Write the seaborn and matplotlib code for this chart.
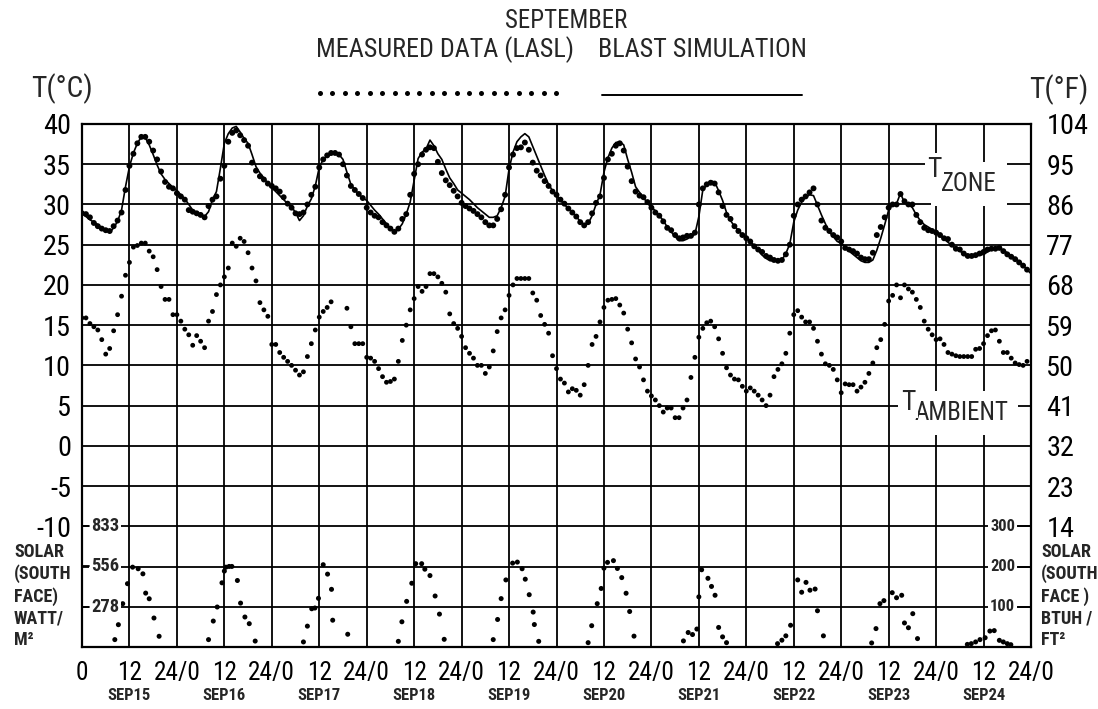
import numpy as np
import pandas as pd
import matplotlib
matplotlib.use("Agg")
import matplotlib.pyplot as plt
import matplotlib.transforms as mtransforms
from matplotlib.lines import Line2D
import seaborn as sns

# ---------------------------------------------------------------- data
# hour 0 = midnight starting Sep 15; ten days of hourly values
zone_sim = [
    29.0, 28.5, 28.1, 27.8, 27.5, 27.1, 26.8, 26.5, 27.1, 27.9, 29.3, 32.2, 34.7, 36.4, 37.6, 38.4, 38.3, 37.4, 36.2, 34.9, 33.8, 33.1, 32.6, 32.1,
    31.7, 31.2, 30.7, 30.0, 29.3, 29.0, 28.8, 28.5, 29.1, 30.6, 31.6, 34.5, 37.6, 38.8, 39.5, 39.7, 39.0, 38.2, 37.6, 36.2, 34.7, 33.9, 33.3, 32.6,
    32.1, 31.6, 31.1, 30.6, 30.1, 29.7, 29.0, 28.0, 28.6, 29.8, 30.7, 32.3, 34.6, 35.6, 36.0, 36.2, 36.3, 36.2, 35.6, 34.0, 32.5, 31.8, 31.3, 30.8,
    30.5, 29.9, 29.3, 28.8, 28.2, 27.6, 27.0, 26.6, 26.9, 27.6, 28.8, 30.3, 33.0, 35.7, 36.5, 36.9, 38.0, 37.3, 36.3, 35.6, 34.4, 33.3, 32.6, 31.8,
    31.4, 31.0, 30.6, 30.1, 29.6, 29.2, 28.8, 28.4, 28.4, 28.6, 29.6, 31.0, 34.4, 36.5, 37.8, 38.4, 38.8, 38.4, 37.2, 36.0, 34.8, 33.6, 32.5, 31.7,
    31.2, 30.5, 30.0, 29.5, 29.0, 28.5, 27.9, 27.4, 27.6, 28.6, 30.0, 31.2, 34.0, 35.8, 37.0, 37.7, 37.8, 37.4, 35.6, 34.0, 32.2, 31.5, 30.9, 30.1,
    29.7, 29.2, 28.6, 28.0, 27.2, 26.6, 26.0, 25.5, 25.5, 25.7, 26.0, 26.3, 28.5, 31.8, 32.4, 32.9, 32.8, 31.7, 30.5, 29.0, 28.0, 27.3, 26.8, 26.2,
    25.9, 25.4, 24.9, 24.3, 23.7, 23.3, 23.0, 23.0, 23.0, 23.1, 23.9, 25.1, 27.8, 29.3, 30.3, 30.9, 31.2, 31.1, 29.9, 28.7, 27.6, 26.6, 26.0, 25.4,
    25.2, 24.7, 24.2, 23.8, 23.4, 23.0, 22.8, 22.8, 23.1, 24.3, 25.8, 27.5, 29.3, 30.0, 30.1, 31.4, 30.2, 30.0, 29.6, 28.7, 28.0, 27.5, 27.2, 26.9,
    26.6, 26.2, 25.7, 25.3, 24.9, 24.5, 24.2, 23.9, 23.7, 23.6, 23.6, 23.7, 23.8, 24.1, 24.4, 24.6, 24.6, 24.3, 24.0, 23.6, 23.3, 22.9, 22.4, 21.9,
    21.4,
]

zone_measured = [
    28.9, 28.8, 28.4, 27.7, 27.3, 27.0, 26.8, 26.7, 27.3, 28.0, 29.0, 31.8, 34.8, 36.3, 37.6, 38.4, 38.4, 37.8, 36.7, 35.6, 34.1, 32.8, 32.2, 32.0,
    31.4, 31.0, 30.6, 29.3, 29.1, 28.9, 28.7, 28.4, 29.8, 30.6, 31.0, 33.2, 34.8, 37.8, 38.9, 39.2, 38.6, 38.0, 37.3, 35.2, 34.2, 33.5, 33.1, 32.6,
    32.3, 32.0, 31.6, 30.9, 30.1, 29.6, 28.9, 28.8, 29.0, 30.0, 31.2, 32.2, 34.6, 35.6, 36.1, 36.4, 36.4, 36.2, 35.0, 33.6, 32.3, 31.8, 31.3, 30.8,
    29.6, 29.0, 28.6, 28.4, 27.8, 27.4, 27.0, 26.6, 27.0, 28.2, 28.8, 31.2, 33.8, 35.0, 36.2, 36.8, 37.1, 37.0, 35.3, 33.9, 33.0, 32.4, 31.7, 31.0,
    30.2, 29.8, 29.5, 29.2, 28.8, 28.4, 27.8, 27.4, 27.4, 28.2, 29.4, 31.2, 34.6, 36.2, 37.0, 37.1, 37.7, 36.8, 35.2, 34.2, 33.6, 32.9, 32.3, 31.6,
    31.2, 30.6, 30.1, 29.5, 29.0, 28.5, 27.8, 27.4, 27.8, 28.9, 30.2, 31.0, 33.3, 35.6, 36.3, 37.3, 37.6, 36.7, 34.7, 32.9, 31.6, 31.1, 30.9, 30.3,
    29.6, 29.0, 28.6, 27.9, 27.1, 26.8, 26.2, 25.8, 25.9, 26.1, 26.1, 26.5, 30.0, 32.0, 32.5, 32.7, 32.6, 31.5, 29.8, 28.7, 28.2, 27.3, 26.7, 26.2,
    25.8, 25.4, 24.8, 24.4, 24.1, 23.6, 23.4, 23.1, 23.0, 23.1, 23.8, 25.0, 28.6, 30.0, 30.6, 31.0, 31.5, 32.0, 30.0, 28.0, 27.1, 26.7, 26.2, 25.9,
    25.4, 24.6, 24.4, 24.2, 23.9, 23.4, 23.2, 23.2, 24.0, 26.2, 27.2, 28.4, 29.6, 30.0, 30.0, 31.3, 30.4, 30.0, 30.0, 28.7, 27.8, 27.1, 26.8, 26.7,
    26.5, 26.2, 25.8, 25.7, 25.0, 24.5, 24.4, 23.9, 23.6, 23.6, 23.7, 23.9, 24.1, 24.4, 24.5, 24.5, 24.6, 24.2, 23.8, 23.5, 23.2, 22.8, 22.4, 21.9,
]

nan = np.nan
ambient_measured = [
    15.9, 15.9, 15.2, 14.8, 14.4, 13.2, 11.4, 12.1, 14.3, 16.3, 18.6, 21.2, 22.8, 24.7, 24.9, 25.2, 25.2, 24.2, 23.5, 21.9, 19.8, 18.2, 18.2, 16.3,
    16.3, 15.5, 14.5, 13.8, 12.5, 13.7, 13.0, 12.2, 15.5, 16.7, 18.8, 20.0, 21.0, 22.1, 25.2, 24.8, 25.8, 25.4, 24.0, 22.1, 20.5, 17.8, 16.9, 16.1,
    12.6, 12.6, 11.6, 11.0, 10.5, 10.0, 9.4, 8.8, 9.2, 11.1, 12.7, 14.4, 16.0, 16.7, 17.2, 17.9, nan, nan, nan, 17.1, 14.8, 12.7, 12.7, 12.7,
    11.0, 10.9, 10.5, 9.6, 8.6, 7.9, 8.0, 8.3, 10.5, 13.1, 15.0, 16.9, 18.3, 19.8, 19.2, 19.8, 21.4, 21.4, 21.0, 20.2, 19.1, 16.4, 15.2, 14.6,
    13.6, 12.2, 11.5, 10.9, 10.0, 10.0, 9.0, 9.8, 11.8, 14.2, 15.9, 16.9, 18.7, 20.0, 20.8, 20.8, 20.8, 20.8, 19.0, 18.1, 16.2, 15.1, 14.0, 11.2,
    9.6, 8.3, 7.8, 6.7, 7.1, 6.9, 6.3, 7.6, 10.0, 12.6, 13.6, 15.4, 17.2, 18.1, 18.2, 18.3, 17.5, 16.5, 14.5, 12.8, 10.8, 9.8, 8.2, 6.8,
    6.2, 5.7, 5.0, 4.2, 4.7, 4.7, 3.5, 3.5, 4.7, 5.7, 8.5, 11.0, 13.5, 14.6, 15.3, 15.5, 14.8, 13.3, 11.5, 9.7, 8.8, 8.3, 8.2, 7.4,
    6.8, 7.2, 6.8, 6.3, 5.7, 5.0, 6.3, 8.6, 9.5, 10.2, 11.5, 14.0, 16.3, 16.8, 16.0, 15.4, 15.4, 14.6, 13.0, 11.4, 10.2, 10.0, 9.5, 8.2,
    6.6, 7.7, 7.6, 7.6, 6.8, 7.3, 7.9, 9.0, 10.3, 12.2, 13.2, 15.1, 18.0, 18.7, 20.0, 18.4, 20.0, 19.5, 19.1, 18.2, 17.2, 15.5, 14.5, 13.8,
    13.2, 13.3, 12.6, 11.6, 11.4, 11.2, 11.1, 11.1, 11.1, 11.1, 12.0, 12.1, 12.7, 13.7, 14.3, 14.4, 13.0, 11.6, 11.6, 10.9, 10.3, 10.1, 10.0, 10.5,
]

# solar irradiance on the south face, W/m^2, at the logged hours
solar_hours = [
    8.3, 9.2, 10.3, 11.5, 12.8, 14.2, 15.4, 16.1, 17.0, 18.2, 19.5,
    32.0, 33.2, 34.2, 35.4, 36.0, 36.4, 37.2, 37.9, 39.3, 40.1, 41.2, 42.3, 43.8,
    56.0, 57.0, 58.1, 58.9, 59.8, 61.0, 62.1, 63.1, 63.4, 67.2,
    80.0, 80.9, 82.1, 83.4, 84.4, 85.9, 86.7, 88.0, 89.3, 90.4, 91.6,
    104.0, 105.1, 106.0, 107.2, 108.9, 110.1, 111.3, 112.1, 113.1, 114.1, 114.4, 115.5,
    128.0, 128.9, 130.3, 131.3, 132.0, 132.9, 134.4, 135.4, 136.5, 137.6, 138.5, 139.6,
    152.1, 153.3, 154.4, 155.5, 156.0, 156.7, 158.3, 159.2, 160.1, 161.0, 162.0, 163.0,
    175.9, 177.0, 178.0, 179.2, 181.0, 182.0, 183.1, 184.1, 185.4, 186.0, 187.5,
    199.7, 200.8, 201.8, 202.8, 204.9, 206.0, 207.3, 208.0, 209.0, 210.1, 211.3,
    223.9, 224.9, 226.0, 227.1, 228.4, 229.6, 230.7, 232.0, 233.0, 234.0, 234.9,
]
solar_wm2 = [
    51, 154, 299, 437, 551, 540, 505, 372, 333, 200, 74,
    51, 179, 276, 443, 524, 551, 556, 556, 459, 303, 207, 161, 41,
    35, 144, 264, 269, 336, 568, 503, 398, 185, 88,
    39, 174, 315, 440, 575, 575, 537, 493, 352, 227, 53,
    51, 190, 334, 463, 579, 586, 540, 468, 361, 241, 155, 39,
    30, 147, 299, 404, 544, 584, 596, 542, 479, 371, 245, 75,
    42, 100, 86, 124, 346, 533, 474, 418, 357, 135, 70, 30,
    23, 47, 77, 150, 463, 378, 446, 392, 400, 250, 77,
    28, 127, 299, 320, 375, 340, 357, 166, 133, 230, 58,
    18, 23, 35, 51, 64, 110, 113, 46, 35, 23, 16,
]

day_labels = ["SEP15", "SEP16", "SEP17", "SEP18", "SEP19",
              "SEP20", "SEP21", "SEP22", "SEP23", "SEP24"]
celsius_ticks = [40, 35, 30, 25, 20, 15, 10, 5, 0, -5, -10]
fahrenheit_labels = ["104", "95", "86", "77", "68", "59", "50", "41", "32", "23", "14"]
solar_si_ticks = [833, 556, 278]
solar_us_ticks = [300, 200, 100]

# The solar scale shares the bottom of the temperature frame:
# 0 sits at -25 degC and each 5 degC band is 278 W/m^2 (100 BTUH/ft^2).
Y_MIN, Y_MAX = -25, 40


def wm2_to_axis(w):
    return Y_MIN + np.asarray(w, dtype=float) * 15.0 / 833.0


def btu_to_axis(b):
    return Y_MIN + np.asarray(b, dtype=float) * 5.0 / 100.0


# ---------------------------------------------------------------- style
sns.set_theme(style="white")
plt.rcParams["font.family"] = ["Liberation Sans Narrow", "Roboto Condensed",
                               "Liberation Sans", "DejaVu Sans"]
plt.rcParams["axes.unicode_minus"] = False

W, H = 1098, 709
fig = plt.figure(figsize=(W / 100, H / 100), dpi=100)
renderer = fig.canvas.get_renderer()


def fit(s, width_px, weight="normal"):
    """Font size (pt) that makes string s about width_px pixels wide."""
    probe = fig.text(0, 0, s, fontsize=20, fontweight=weight)
    w = probe.get_window_extent(renderer=renderer).width
    probe.remove()
    return 20.0 * width_px / w


xtick_fs = fit("24/0", 47)
ytick_fs = fit("40", 28)
sep_fs = fit("SEPTEMBER", 122)
key_fs = fit("MEASURED DATA (LASL)", 258)
unit_fs = fit("T(°C)", 62)
day_fs = fit("SEP15", 43, "bold")
sol_left_fs = fit("833", 28, "bold")
sol_right_fs = fit("300", 25, "bold")
cap_fs = fit("SOLAR", 50, "bold")
curve_fs = fit("AMBIENT", 94)

ax = fig.add_axes([82 / W, 1 - 647 / H, 949 / W, 523 / H])

hours_meas = np.arange(len(zone_measured))
sim_df = pd.DataFrame({"hour": np.arange(len(zone_sim)), "temp": zone_sim})
meas_df = pd.DataFrame({"hour": hours_meas, "zone": zone_measured,
                        "ambient": ambient_measured})
solar_df = pd.DataFrame({"hour": solar_hours, "y": wm2_to_axis(solar_wm2)})

sns.lineplot(data=sim_df, x="hour", y="temp", color="black", lw=1.2,
             ax=ax, zorder=4)
sns.scatterplot(data=meas_df, x="hour", y="zone", color="black", s=18,
                edgecolor="none", ax=ax, zorder=5)
sns.scatterplot(data=meas_df, x="hour", y="ambient", color="black", s=12,
                edgecolor="none", ax=ax, zorder=5)
sns.scatterplot(data=solar_df, x="hour", y="y", color="black", s=13,
                edgecolor="none", ax=ax, zorder=5)

ax.set_xlim(0, 240)
ax.set_ylim(Y_MIN, Y_MAX)
ax.set_xlabel("")
ax.set_ylabel("")

# grid every 12 h and every 5 degC
xt = list(range(0, 241, 12))
xlab = ["0" if t == 0 else ("24/0" if t % 24 == 0 else "12") for t in xt]
ax.set_xticks(xt)
ax.set_xticklabels(xlab)
yt = list(range(Y_MIN, Y_MAX + 1, 5))
ax.set_yticks(yt)
ax.set_yticklabels([str(v) if v in celsius_ticks else "" for v in yt])
ax.grid(True, color="black", lw=1.3)
ax.set_axisbelow(True)
ax.tick_params(axis="both", length=0, colors="black")
ax.tick_params(axis="x", labelsize=xtick_fs, pad=10)
ax.tick_params(axis="y", labelsize=ytick_fs, pad=8)
for s in ax.spines.values():
    s.set_color("black")
    s.set_linewidth(1.6)

# Fahrenheit scale on the right
ax2 = ax.twinx()
ax2.set_ylim(Y_MIN, Y_MAX)
ax2.set_yticks(celsius_ticks)
ax2.set_yticklabels(fahrenheit_labels)
ax2.tick_params(axis="y", length=0, labelsize=ytick_fs, pad=11, colors="black")
ax2.grid(False)
for s in ax2.spines.values():
    s.set_visible(False)

# solar scales drawn inside the frame
ytr = ax.get_yaxis_transform()
white = dict(facecolor="white", edgecolor="none", boxstyle="square,pad=0.12")
for v, yv in zip(solar_si_ticks, wm2_to_axis(solar_si_ticks)):
    ax.text(0.0095, yv, str(v), transform=ytr, ha="left", va="center",
            fontsize=sol_left_fs, fontweight="bold", bbox=white, zorder=6)
    ax.plot([0, 0.007], [yv, yv], transform=ytr, color="black", lw=1.3,
            zorder=7, clip_on=False)
for v, yv in zip(solar_us_ticks, btu_to_axis(solar_us_ticks)):
    ax.text(0.9835, yv, str(v), transform=ytr, ha="right", va="center",
            fontsize=sol_right_fs, fontweight="bold", bbox=white, zorder=6)
    ax.plot([0.986, 1.0], [yv, yv], transform=ytr, color="black", lw=1.3,
            zorder=7, clip_on=False)

# curve labels: a letter T with the curve name set a little lower
name_box = dict(facecolor="white", edgecolor="none", boxstyle="square,pad=0.4")
t_box = dict(facecolor="white", edgecolor="none", boxstyle="square,pad=0.1")
ax.text(217.3, 31.7, "ZONE", fontsize=curve_fs, ha="left", va="baseline",
        bbox=name_box, zorder=6)
ax.text(215.6, 33.4, "T", fontsize=curve_fs * 1.1, ha="center", va="baseline",
        bbox=t_box, zorder=7)
ax.text(210.5, 3.2, "AMBIENT", fontsize=curve_fs, ha="left", va="baseline",
        bbox=name_box, zorder=6)
ax.text(209.0, 4.5, "T", fontsize=curve_fs * 1.1, ha="center", va="baseline",
        bbox=t_box, zorder=7)

# day names under each noon tick
day_tr = mtransforms.blended_transform_factory(ax.transData, fig.transFigure)
for i, name in enumerate(day_labels):
    ax.text(12 + 24 * i, 1 - 695 / H, name, transform=day_tr, ha="center",
            va="center", fontsize=day_fs, fontweight="bold")

# axis captions
fig.text(62 / W, 1 - 89 / H, "T(°C)", ha="center", va="center", fontsize=unit_fs)
fig.text(1059 / W, 1 - 90 / H, "T(°F)", ha="center", va="center", fontsize=unit_fs)
fig.text(14 / W, 1 - 543 / H, "SOLAR\n(SOUTH\nFACE)\nWATT/\nM²", ha="left",
         va="top", fontsize=cap_fs, fontweight="bold", linespacing=1.25)
fig.text(1041 / W, 1 - 543 / H, "SOLAR\n(SOUTH\nFACE )\nBTUH /\nFT²", ha="left",
         va="top", fontsize=cap_fs, fontweight="bold", linespacing=1.25)

# title and key
fig.text(566 / W, 1 - 21 / H, "SEPTEMBER", ha="center", va="center", fontsize=sep_fs)
fig.text(316 / W, 1 - 50 / H, "MEASURED DATA (LASL)", ha="left", va="center",
         fontsize=key_fs)
fig.text(598 / W, 1 - 50 / H, "BLAST SIMULATION", ha="left", va="center",
         fontsize=key_fs)
fig.add_artist(Line2D(np.linspace(320, 556, 20) / W, [1 - 93 / H] * 20,
                      transform=fig.transFigure, ls="none", marker="o",
                      ms=3.6, color="black", mec="none"))
fig.add_artist(Line2D([602 / W, 802 / W], [1 - 95 / H, 1 - 95 / H],
                      transform=fig.transFigure, color="black", lw=1.4))

fig.savefig("out.png", dpi=100, facecolor="white")
